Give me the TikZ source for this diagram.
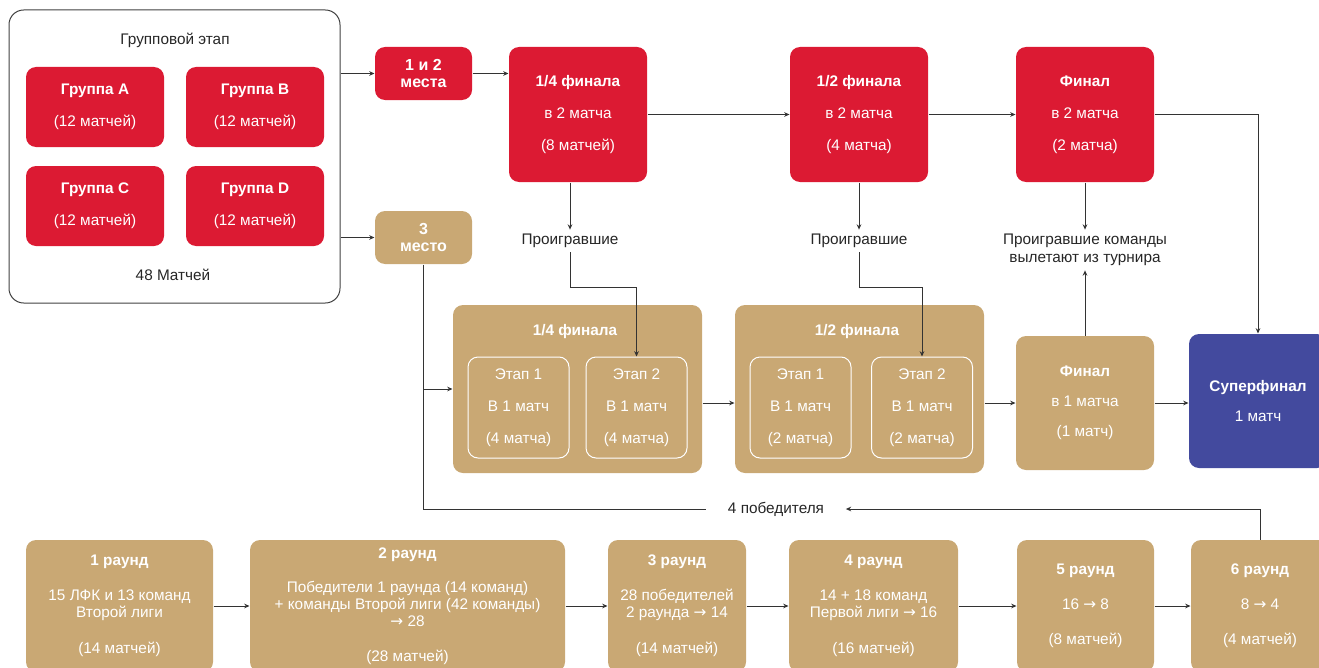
\documentclass[tikz,border=0pt]{standalone}
\usepackage{fontspec}
\setmainfont{Liberation Sans}
\newfontfamily\arrowfont{DejaVu Sans}
\usepackage{tikz}
\usetikzlibrary{arrows.meta,positioning}
\definecolor{cupred}{HTML}{DC1A33}
\definecolor{cuptan}{HTML}{C9A874}
\definecolor{cupblue}{HTML}{434A9E}
\definecolor{cupline}{HTML}{333333}
\newcommand{\toarrow}{{\arrowfont →}}

\begin{document}
\begin{tikzpicture}[x=0.75pt, y=-0.75pt, line width=0.75pt,
    sz/.style 2 args={minimum width=#1*0.75pt, minimum height=#2*0.75pt},
    arr/.style={draw=cupline, -{Stealth[length=4pt,width=3.5pt]}},
    lin/.style={draw=cupline},
    lbl/.style={text=black!85, font=\fontsize{11.5}{13.5}\selectfont, align=center, inner sep=3pt}]
   \useasboundingbox (0,0) rectangle (1319,667);
   \clip (0,0) rectangle (1319,667);
   % group stage
   \node[draw=black!75, rounded corners=11pt, sz={331}{293}] (grp) at (174.5,156.5) {};
   \node[lbl] (grpT) at (175,40) {Групповой этап};
   \node[lbl] (grpN) at (173,275) {48 Матчей};
   \begin{scope}[every node/.style={fill=cupred, text=white, rounded corners=7.5pt, align=center,
                 inner sep=0pt, font=\fontsize{11.5}{24}\selectfont}]
    \node[sz={138}{80}] (gA) at (95,107) {\textbf{Группа A}\\(12 матчей)};
    \node[sz={138}{80}] (gB) at (255,107) {\textbf{Группа B}\\(12 матчей)};
    \node[sz={138}{80}] (gC) at (95,206) {\textbf{Группа C}\\(12 матчей)};
    \node[sz={138}{80}] (gD) at (255,206) {\textbf{Группа D}\\(12 матчей)};
    \node[sz={97}{53}, font=\bfseries\fontsize{12}{12.75}\selectfont] (top12) at (423.5,73.5) {1 и 2\\места};
    \node[sz={138}{135}] (qf) at (578,114.5) {\textbf{1/4 финала}\\в 2 матча\\(8 матчей)};
    \node[sz={138}{135}] (sf) at (859,114.5) {\textbf{1/2 финала}\\в 2 матча\\(4 матча)};
    \node[sz={138}{135}] (fin) at (1085,114.5) {\textbf{Финал}\\в 2 матча\\(2 матча)};
   \end{scope}
   % losers
   \node[lbl] (lose1) at (570,241) {Проигравшие};
   \node[lbl] (lose2) at (859,241) {Проигравшие};
   \node[lbl] (lose3) at (1085,250) {Проигравшие команды\\вылетают из турнира};
   \begin{scope}[every node/.style={fill=cuptan, text=white, rounded corners=7.5pt, align=center,
                 inner sep=0pt, font=\fontsize{11.5}{24}\selectfont}]
    \node[sz={97}{53}, font=\bfseries\fontsize{12}{12.75}\selectfont] (third) at (423.5,237.5) {3\\место};
    \node[sz={249}{168}] (qfB) at (577.5,389) {};
    \node[sz={249}{168}] (sfB) at (859.5,389) {};
    \node[sz={138}{134}, font=\fontsize{11.5}{22.5}\selectfont] (finB) at (1085,403) {\textbf{Финал}\\в 1 матча\\(1 матч)};
   \end{scope}
   \begin{scope}[every node/.style={text=white, align=center, font=\fontsize{11.5}{24}\selectfont}]
    \node[font=\bfseries\fontsize{11.5}{13}\selectfont] (qfT) at (575,332) {1/4 финала};
    \node[font=\bfseries\fontsize{11.5}{13}\selectfont] (sfT) at (857,332) {1/2 финала};
    \node[draw=white, rounded corners=7.5pt, inner sep=0pt, sz={101}{101}] (qs1) at (518.5,407.5) {Этап 1\\В 1 матч\\(4 матча)};
    \node[draw=white, rounded corners=7.5pt, inner sep=0pt, sz={101}{101}] (qs2) at (636.5,407.5) {Этап 2\\В 1 матч\\(4 матча)};
    \node[draw=white, rounded corners=7.5pt, inner sep=0pt, sz={101}{101}] (ss1) at (800.5,407.5) {Этап 1\\В 1 матч\\(2 матча)};
    \node[draw=white, rounded corners=7.5pt, inner sep=0pt, sz={101}{101}] (ss2) at (922,407.5) {Этап 2\\В 1 матч\\(2 матча)};
   \end{scope}
   \node[fill=cupblue, text=white, rounded corners=7.5pt, align=center, inner sep=0pt, sz={138}{134},
         font=\fontsize{11.5}{23}\selectfont] (sup) at (1258,401) {\textbf{Суперфинал}\\1 матч};
   % qualifying rounds
   \begin{scope}[every node/.style={fill=cuptan, text=white, rounded corners=7.5pt, align=center,
                 inner sep=0pt, font=\fontsize{11.5}{12.75}\selectfont}]
    \node[sz={187}{132}] (r1) at (119.5,606) {\textbf{1 раунд}\\[13.5pt]15 ЛФК и 13 команд\\Второй лиги\\[14.25pt](14 матчей)};
    \node[sz={315}{132}] (r2) at (407.5,606) {\textbf{2 раунд}\\[12.75pt]Победители 1 раунда (14 команд)\\+ команды Второй лиги (42 команды)\\\toarrow{} 28\\[13.5pt](28 матчей)};
    \node[sz={138}{132}] (r3) at (677,606) {\textbf{3 раунд}\\[13.5pt]28 победителей\\2 раунда \toarrow{} 14\\[14.25pt](14 матчей)};
    \node[sz={169}{132}] (r4) at (873.5,606) {\textbf{4 раунд}\\[13.5pt]14 + 18 команд\\Первой лиги \toarrow{} 16\\[14.25pt](16 матчей)};
    \node[sz={137}{132}] (r5) at (1085.5,606) {\textbf{5 раунд}\\[13.5pt]16 \toarrow{} 8\\[13.5pt](8 матчей)};
    \node[sz={138}{132}] (r6) at (1260,606) {\textbf{6 раунд}\\[13.5pt]8 \toarrow{} 4\\[13.5pt](4 матчей)};
   \end{scope}
   \node[lbl, inner xsep=16pt] (wins) at (776,509) {4 победителя};
   % connectors
   \begin{scope}[every path/.style={draw=cupline}]
    \draw[arr] (grp.east |- top12.west) -- (top12.west);
    \draw[arr] (grp.east |- third.west) -- (third.west);
    \draw[arr] (top12.east) -- (qf.west |- top12.east);
    \draw[arr] (qf.east) -- (sf.west);
    \draw[arr] (sf.east) -- (fin.west);
    \draw[arr] (fin.east) -| (sup.north);
    \draw[arr] (qf.south -| lose1) -- (lose1.north);
    \draw[arr] (sf.south -| lose2) -- (lose2.north);
    \draw[arr] (fin.south) -- (lose3.north);
    \draw[arr] (finB.north) -- (lose3.south);
    \draw[arr] (lose1.south) -- ++(0,35) -| (qs2.north);
    \draw[arr] (lose2.south) -- ++(0,35) -| (ss2.north);
    \draw[arr] (qfB.east |- finB) -- (sfB.west |- finB);
    \draw[arr] (sfB.east |- finB) -- (finB.west);
    \draw[arr] (finB.east) -- (sup.west |- finB.east);
    \draw (third.south) |- (wins.west);
    \draw[arr] (third.south |- qfB.west) -- (qfB.west);
    \draw[arr] (r6.north) |- (wins.east);
    \draw[arr] (r1.east) -- (r2.west);
    \draw[arr] (r2.east) -- (r3.west);
    \draw[arr] (r3.east) -- (r4.west);
    \draw[arr] (r4.east) -- (r5.west);
    \draw[arr] (r5.east) -- (r6.west);
   \end{scope}
\end{tikzpicture}
\end{document}
